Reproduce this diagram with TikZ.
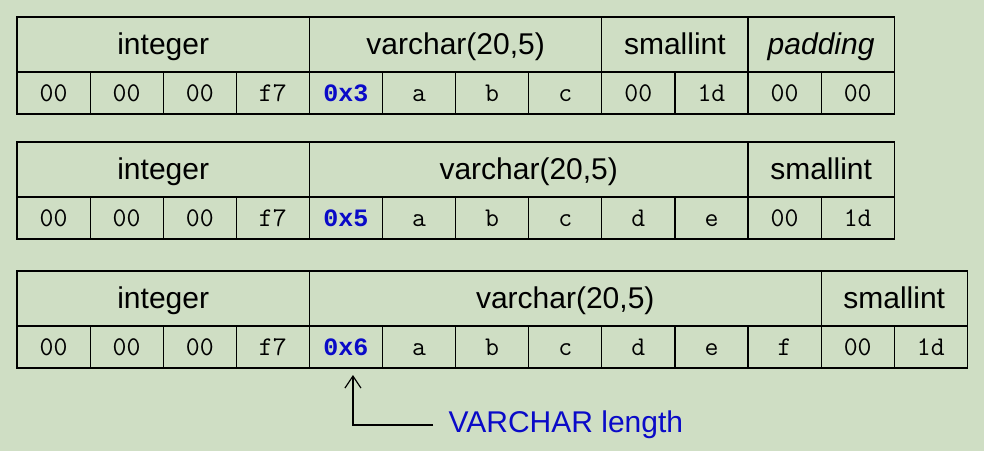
\documentclass[tikz,border=0pt]{standalone}
\usepackage{fontspec}
\setmainfont{Liberation Sans}
\newfontfamily\lenmono{Liberation Mono}
\usetikzlibrary{arrows.meta}
\definecolor{bgcol}{RGB}{207,222,196}
\definecolor{lencol}{RGB}{10,10,200}
\tikzset{
  bytecell/.style={draw, minimum width=73.1pt, minimum height=42pt, inner sep=0pt, outer sep=0pt,
    anchor=north west, text height=20pt, text depth=4pt, font=\ttfamily\fontsize{27}{30}\selectfont},
  lencell/.style={bytecell, text=lencol, font=\lenmono\bfseries\fontsize{25}{28}\selectfont},
  hdrcell/.style={draw, minimum height=55pt, inner sep=0pt, outer sep=0pt,
    anchor=south west, text height=24pt, text depth=4pt, font=\fontsize{30}{36}\selectfont},
}

\begin{document}
\begin{tikzpicture}[x=1pt, y=-1pt, line width=1.2pt]
	\fill[bgcol] (0,0) rectangle (984,451);
	\useasboundingbox (0,0) rectangle (984,451);

	% varchar holding 3 chars, with padding
	\foreach \t/\s [count=\i from 0] in {00/bytecell, 00/bytecell, 00/bytecell, f7/bytecell,
		0x3/lencell, a/bytecell, b/bytecell, c/bytecell, 00/bytecell, 1d/bytecell, 00/bytecell, 00/bytecell}
		\node[\s] (a\i) at (17+73.1*\i, 72) {\t};
	\node[hdrcell, minimum width=292.4pt] (aint) at (a0.north west) {integer};
	\node[hdrcell, minimum width=292.4pt] (avar) at (a4.north west) {varchar(20,5)};
	\node[hdrcell, minimum width=146.2pt] (asmall) at (a8.north west) {smallint};
	\node[hdrcell, minimum width=146.2pt] (apad) at (a10.north west) {\itshape padding};

	% varchar holding 5 chars
	\foreach \t/\s [count=\i from 0] in {00/bytecell, 00/bytecell, 00/bytecell, f7/bytecell,
		0x5/lencell, a/bytecell, b/bytecell, c/bytecell, d/bytecell, e/bytecell, 00/bytecell, 1d/bytecell}
		\node[\s] (b\i) at (17+73.1*\i, 197) {\t};
	\node[hdrcell, minimum width=292.4pt] (bint) at (b0.north west) {integer};
	\node[hdrcell, minimum width=438.6pt] (bvar) at (b4.north west) {varchar(20,5)};
	\node[hdrcell, minimum width=146.2pt] (bsmall) at (b10.north west) {smallint};

	% varchar holding 6 chars
	\foreach \t/\s [count=\i from 0] in {00/bytecell, 00/bytecell, 00/bytecell, f7/bytecell,
		0x6/lencell, a/bytecell, b/bytecell, c/bytecell, d/bytecell, e/bytecell, f/bytecell, 00/bytecell, 1d/bytecell}
		\node[\s] (c\i) at (17+73.1*\i, 326) {\t};
	\node[hdrcell, minimum width=292.4pt] (cint) at (c0.north west) {integer};
	\node[hdrcell, minimum width=511.7pt] (cvar) at (c4.north west) {varchar(20,5)};
	\node[hdrcell, minimum width=146.2pt] (csmall) at (c11.north west) {smallint};

	\node[font=\fontsize{30}{36}\selectfont, text=lencol, anchor=west, inner xsep=15pt,
		text height=20pt, text depth=6pt] (lenlbl) at (433,425) {VARCHAR length};
	\draw[-{Straight Barb[length=12pt,width=16pt]}] (lenlbl.west) -| ([xshift=7pt,yshift=-7pt]c4.south);
\end{tikzpicture}
\end{document}
